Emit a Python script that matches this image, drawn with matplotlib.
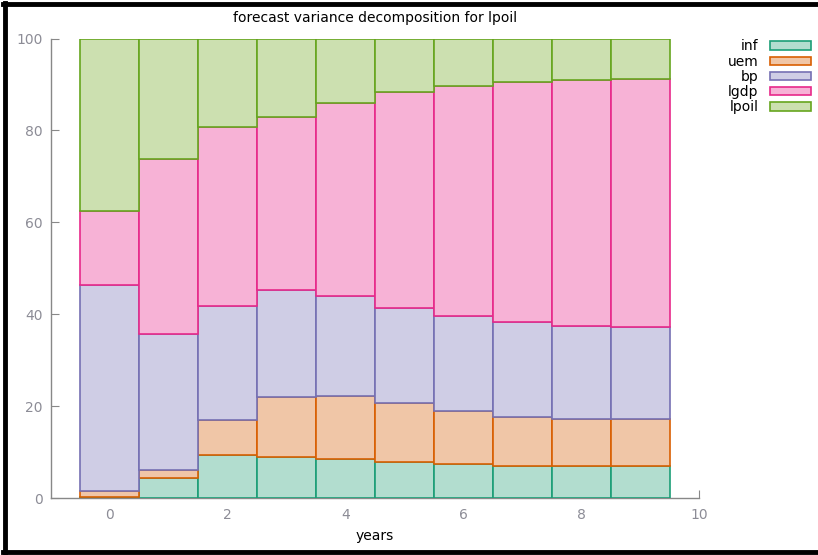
import numpy as np
import matplotlib
matplotlib.use('Agg')
import matplotlib.pyplot as plt
from matplotlib.lines import Line2D

years = np.arange(10)
series = ['inf', 'uem', 'bp', 'lgdp', 'lpoil']
inf = [0.3, 4.5, 9.5, 9.0, 8.5, 8.0, 7.5, 7.0, 7.0, 7.0]
uem = [1.4, 1.6, 7.5, 13.0, 13.8, 12.8, 11.5, 10.7, 10.2, 10.2]
bp = [44.6, 29.7, 24.8, 23.3, 21.8, 20.7, 20.6, 20.6, 20.3, 20.1]
lgdp = [16.1, 38.1, 38.9, 37.6, 41.8, 46.9, 50.1, 52.2, 53.5, 53.9]
lpoil = [37.6, 26.1, 19.3, 17.1, 14.1, 11.6, 10.3, 9.5, 9.0, 8.8]

edges = ['#1b9e77', '#d95f02', '#7570b3', '#e7298a', '#66a61e']
fills = ['#b2ddcf', '#f0c6a7', '#cfcde5', '#f7b2d6', '#cce0b0']

plt.rcParams['font.family'] = 'DejaVu Sans'
fig = plt.figure(figsize=(8.18, 5.55), dpi=100)
ax = fig.add_axes([0.0623, 0.1021, 0.7922, 0.8285])

bottom = np.zeros(len(years))
handles = []
for name, vals, fc, ec in zip(series, [inf, uem, bp, lgdp, lpoil], fills, edges):
    b = ax.bar(years, vals, width=1.0, bottom=bottom, color=fc,
               edgecolor=ec, linewidth=1.2, label=name, zorder=3)
    bottom += np.array(vals)
    handles.append(b)

ax.set_xlim(-1, 10)
ax.set_ylim(0, 100)
ax.set_xticks([0, 2, 4, 6, 8, 10])
ax.set_yticks([0, 20, 40, 60, 80, 100])
for s in ['top', 'right']:
    ax.spines[s].set_visible(False)
for s in ['left', 'bottom']:
    ax.spines[s].set_color('#888888')
    ax.spines[s].set_linewidth(1.0)
ax.tick_params(direction='in', length=6, color='#888888', labelcolor='#8c8c96',
               labelsize=10)
ax.tick_params(axis='y', pad=6)
ax.tick_params(axis='x', pad=7)

ax.set_title('forecast variance decomposition for lpoil', fontsize=10, pad=12)
ax.set_xlabel('years', fontsize=10, labelpad=5)

leg = ax.legend(handles=handles, loc='upper right', bbox_to_anchor=(1.182, 1.01),
                frameon=False, fontsize=10, markerfirst=False, handlelength=3.0,
                handleheight=0.55, labelspacing=0.09, handletextpad=0.8,
                borderaxespad=0)
for t in leg.get_texts():
    t.set_ha('right')
    t.set_position((0, 0))
leg._legend_box.align = 'right'

# black frame around the picture
for (x0, x1, y0, y1) in [(0.004, 1.0, 0.992, 0.992), (0.006, 0.006, 0.0, 0.995),
                         (0.004, 1.0, 0.005, 0.005)]:
    fig.add_artist(Line2D([x0, x1], [y0, y1], color='black', linewidth=3.5))

fig.savefig('out.png', dpi=100)
